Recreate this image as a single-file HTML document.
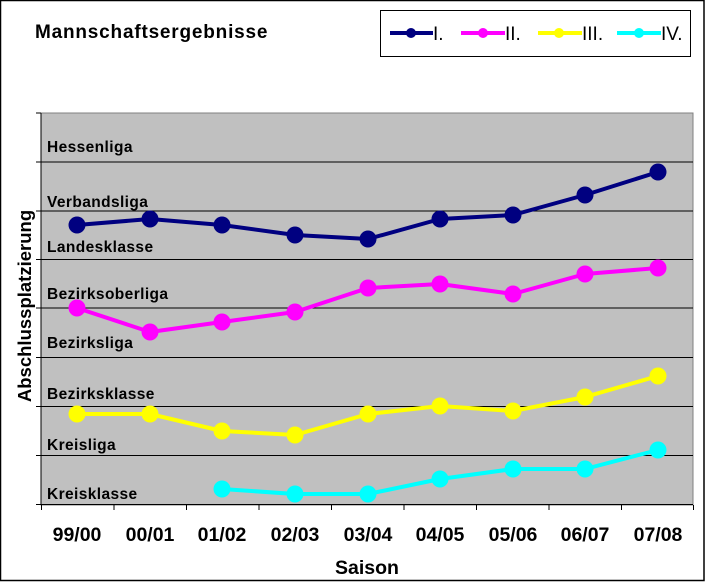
<!DOCTYPE html>
<html><head><meta charset="utf-8"><style>
html,body{margin:0;padding:0;background:#fff;}
svg{display:block;font-family:"Liberation Sans",Arial,sans-serif;}
</style></head><body>
<svg width="707" height="583" viewBox="0 0 707 583" xmlns="http://www.w3.org/2000/svg">
<rect x="0.5" y="0.5" width="703.5" height="580" fill="#fff" stroke="#000" stroke-width="1.5"/>
<text x="35" y="38" font-size="19" font-weight="bold" letter-spacing="0.8">Mannschaftsergebnisse</text>
<rect x="380.5" y="10.5" width="310" height="46" fill="#fff" stroke="#000" stroke-width="1"/>
<g stroke-width="4">
<line x1="390" y1="33" x2="433" y2="33" stroke="#000080"/><circle cx="411" cy="33" r="5" fill="#000080"/>
<line x1="461" y1="33" x2="505" y2="33" stroke="#ff00ff"/><circle cx="483" cy="33" r="5" fill="#ff00ff"/>
<line x1="538" y1="33" x2="582" y2="33" stroke="#ffff00"/><circle cx="559" cy="33" r="5" fill="#ffff00"/>
<line x1="617" y1="33" x2="661" y2="33" stroke="#00ffff"/><circle cx="639" cy="33" r="5" fill="#00ffff"/>
</g>
<g font-size="19" fill="#000">
<text x="433" y="40">I.</text><text x="505" y="40">II.</text><text x="582" y="40">III.</text><text x="661" y="40">IV.</text>
</g>
<rect x="41" y="113" width="652" height="392" fill="#c0c0c0" stroke="#808080" stroke-width="1"/>
<g stroke="#000" stroke-width="1">
<line x1="41" y1="162" x2="693" y2="162"/><line x1="41" y1="211" x2="693" y2="211"/>
<line x1="41" y1="259.5" x2="693" y2="259.5"/><line x1="41" y1="308" x2="693" y2="308"/>
<line x1="41" y1="357.5" x2="693" y2="357.5"/><line x1="41" y1="406.5" x2="693" y2="406.5"/>
<line x1="41" y1="455.5" x2="693" y2="455.5"/>
<line x1="41" y1="113" x2="41" y2="505"/><line x1="41" y1="504.5" x2="693" y2="504.5"/>
<line x1="36" y1="113" x2="41" y2="113"/><line x1="36" y1="162" x2="41" y2="162"/><line x1="36" y1="211" x2="41" y2="211"/><line x1="36" y1="259.5" x2="41" y2="259.5"/><line x1="36" y1="308" x2="41" y2="308"/><line x1="36" y1="357.5" x2="41" y2="357.5"/><line x1="36" y1="406.5" x2="41" y2="406.5"/><line x1="36" y1="455.5" x2="41" y2="455.5"/><line x1="36" y1="504.5" x2="41" y2="504.5"/>
<line x1="41.5" y1="505" x2="41.5" y2="510"/><line x1="114" y1="505" x2="114" y2="510"/><line x1="186.5" y1="505" x2="186.5" y2="510"/><line x1="259" y1="505" x2="259" y2="510"/><line x1="331.5" y1="505" x2="331.5" y2="510"/><line x1="404" y1="505" x2="404" y2="510"/><line x1="476.5" y1="505" x2="476.5" y2="510"/><line x1="549" y1="505" x2="549" y2="510"/><line x1="621.5" y1="505" x2="621.5" y2="510"/><line x1="693.5" y1="505" x2="693.5" y2="510"/>
</g>
<g font-size="15.5" font-weight="bold" fill="#000" letter-spacing="0.4">
<text x="47" y="152">Hessenliga</text><text x="47" y="207">Verbandsliga</text><text x="47" y="252">Landesklasse</text>
<text x="47" y="299">Bezirksoberliga</text><text x="47" y="348">Bezirksliga</text><text x="47" y="399">Bezirksklasse</text>
<text x="47" y="450">Kreisliga</text><text x="47" y="499">Kreisklasse</text>
</g>
<g stroke-width="4" fill="none" stroke-linejoin="round">
<polyline stroke="#000080" points="77,225 150,219 222,225 295,235 368,239 440,219 513,215 585,195 658,172"/>
<polyline stroke="#ff00ff" points="77,308 150,332 222,322 295,312 368,288 440,284 513,294 585,274 658,268"/>
<polyline stroke="#ffff00" points="77,414 150,414 222,431 295,435 368,414 440,406 513,411 585,397 658,376"/>
<polyline stroke="#00ffff" points="222,489 295,494 368,494 440,479 513,469 585,469 658,450"/>
</g>
<g fill="#000080"><circle cx="77" cy="225" r="8.5"/><circle cx="150" cy="219" r="8.5"/><circle cx="222" cy="225" r="8.5"/><circle cx="295" cy="235" r="8.5"/><circle cx="368" cy="239" r="8.5"/><circle cx="440" cy="219" r="8.5"/><circle cx="513" cy="215" r="8.5"/><circle cx="585" cy="195" r="8.5"/><circle cx="658" cy="172" r="8.5"/></g>
<g fill="#ff00ff"><circle cx="77" cy="308" r="8.5"/><circle cx="150" cy="332" r="8.5"/><circle cx="222" cy="322" r="8.5"/><circle cx="295" cy="312" r="8.5"/><circle cx="368" cy="288" r="8.5"/><circle cx="440" cy="284" r="8.5"/><circle cx="513" cy="294" r="8.5"/><circle cx="585" cy="274" r="8.5"/><circle cx="658" cy="268" r="8.5"/></g>
<g fill="#ffff00"><circle cx="77" cy="414" r="8.5"/><circle cx="150" cy="414" r="8.5"/><circle cx="222" cy="431" r="8.5"/><circle cx="295" cy="435" r="8.5"/><circle cx="368" cy="414" r="8.5"/><circle cx="440" cy="406" r="8.5"/><circle cx="513" cy="411" r="8.5"/><circle cx="585" cy="397" r="8.5"/><circle cx="658" cy="376" r="8.5"/></g>
<g fill="#00ffff"><circle cx="222" cy="489" r="8.5"/><circle cx="295" cy="494" r="8.5"/><circle cx="368" cy="494" r="8.5"/><circle cx="440" cy="479" r="8.5"/><circle cx="513" cy="469" r="8.5"/><circle cx="585" cy="469" r="8.5"/><circle cx="658" cy="450" r="8.5"/></g>
<g font-size="19.5" font-weight="bold" text-anchor="middle" fill="#000">
<text x="77" y="541">99/00</text><text x="150" y="541">00/01</text><text x="222" y="541">01/02</text><text x="295" y="541">02/03</text><text x="368" y="541">03/04</text><text x="440" y="541">04/05</text><text x="513" y="541">05/06</text><text x="585" y="541">06/07</text><text x="658" y="541">07/08</text>
<text x="367" y="574">Saison</text>
<text x="0" y="0" transform="translate(31,306) rotate(-90)" font-size="18.5">Abschlussplatzierung</text>
</g>
</svg>
</body></html>
